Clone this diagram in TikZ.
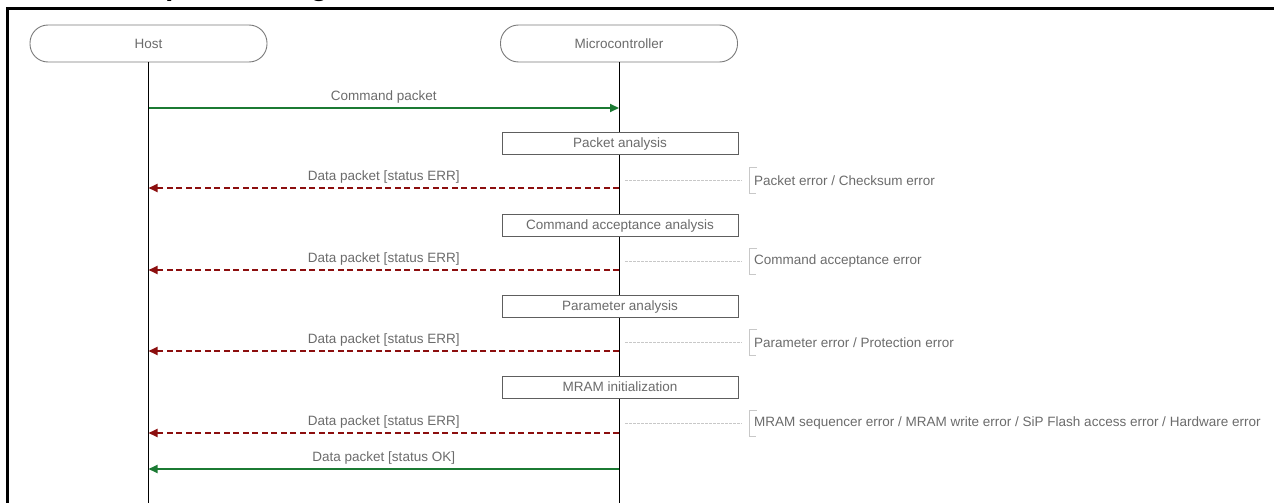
\documentclass[tikz,border=0pt]{standalone}
\usepackage{fontspec}
\setmainfont{Liberation Sans}
\usetikzlibrary{arrows.meta}

\definecolor{txtgray}{HTML}{6B6B6B}
\definecolor{boxgray}{HTML}{7A7A7A}
\definecolor{stepgray}{HTML}{5E5E5E}
\definecolor{okgreen}{HTML}{1B7A33}
\definecolor{errred}{HTML}{8C0E0E}
\definecolor{guidegray}{HTML}{C8C8C8}

\tikzset{
  actor/.style={draw=boxgray, fill=white, line width=0.9pt, rounded corners=18pt,
    minimum width=237pt, minimum height=37pt, text=txtgray,
    font=\fontsize{13.5}{15}\selectfont},
  lifeline/.style={draw=black, line width=0.8pt},
  stepbox/.style={draw=stepgray, fill=white, line width=0.9pt, minimum width=236pt,
    minimum height=22pt, inner sep=0pt, text height=9.5pt, text depth=0pt,
    text=txtgray, font=\fontsize{13.5}{15}\selectfont},
  okmsg/.style={draw=okgreen, line width=1.8pt,
    -{Triangle[length=9pt,width=8pt]}},
  errmsg/.style={draw=errred, line width=1.8pt, dash pattern=on 6pt off 3.5pt,
    -{Triangle[length=9pt,width=8pt]}},
  msglabel/.style={text=txtgray, font=\fontsize{13.5}{15}\selectfont,
    inner sep=0pt, yshift=11pt},
  note/.style={anchor=west, text=txtgray, font=\fontsize{13.5}{15}\selectfont,
    inner xsep=5pt, inner ysep=0pt, minimum height=25pt},
  guide/.style={draw=guidegray, line width=0.6pt, dash pattern=on 2.5pt off 1.5pt},
  bracketline/.style={draw=guidegray, line width=0.8pt},
  frameline/.style={draw=black, line width=3pt}
}

\begin{document}
\begin{tikzpicture}[x=1pt, y=-1pt]
\useasboundingbox (0,0) rectangle (1274,503);
\clip (0,0) rectangle (1274,503);

% heading, mostly above the visible area
\node[anchor=base west, inner sep=0pt,
  font=\bfseries\fontsize{29}{30}\selectfont] (title) at (120,-4.5) {Sequence Diagram};

% frame
\draw[frameline] (7,503) -- (7,8.5) -- (1274,8.5);

% lifelines
\coordinate (hostEnd) at (148.5,503);
\coordinate (mcuEnd)  at (619,503);

% participants
\node[actor] (host) at (148.5,43.5) {Host};
\node[actor] (mcu)  at (619,43.5) {Microcontroller};
\draw[lifeline] (host.south) -- (hostEnd);
\draw[lifeline] (mcu.south) -- (mcuEnd);

% command packet
\coordinate (h0) at (148.5,108);
\coordinate (m0) at (619,108);
\draw[okmsg] (h0) -- node[msglabel] {Command packet} (m0);

% processing steps
\node[stepbox] (s1) at (620,143) {Packet analysis};
\node[stepbox] (s2) at (620,225) {Command acceptance analysis};
\node[stepbox] (s3) at (620,306) {Parameter analysis};
\node[stepbox] (s4) at (620,387) {MRAM initialization};

% error replies
\coordinate (m1) at (619,188); \coordinate (h1) at (148.5,188);
\coordinate (m2) at (619,270); \coordinate (h2) at (148.5,270);
\coordinate (m3) at (619,351); \coordinate (h3) at (148.5,351);
\coordinate (m4) at (619,433); \coordinate (h4) at (148.5,433);
\draw[errmsg] (m1) -- node[msglabel] {Data packet [status ERR]} (h1);
\draw[errmsg] (m2) -- node[msglabel] {Data packet [status ERR]} (h2);
\draw[errmsg] (m3) -- node[msglabel] {Data packet [status ERR]} (h3);
\draw[errmsg] (m4) -- node[msglabel] {Data packet [status ERR]} (h4);

% success reply
\coordinate (m5) at (619,469); \coordinate (h5) at (148.5,469);
\draw[okmsg] (m5) -- node[msglabel] {Data packet [status OK]} (h5);

% error notes
\node[note] (n1) at (749,180.5) {Packet error / Checksum error};
\node[note] (n2) at (749,261.5) {Command acceptance error};
\node[note] (n3) at (749,342.5) {Parameter error / Protection error};
\node[note] (n4) at (749,423.5) {MRAM sequencer error / MRAM write error / SiP Flash access error / Hardware error};

\foreach \n/\y in {n1/180.5, n2/261.5, n3/342.5, n4/423.5}{
  \coordinate (g\n) at (625,\y);
  \draw[guide] (g\n) -- ([xshift=-7pt]\n.west);
  \draw[bracketline] ([xshift=8pt]\n.north west) -- (\n.north west)
    -- (\n.south west) -- ([xshift=7pt]\n.south west);
}
\end{tikzpicture}
\end{document}
